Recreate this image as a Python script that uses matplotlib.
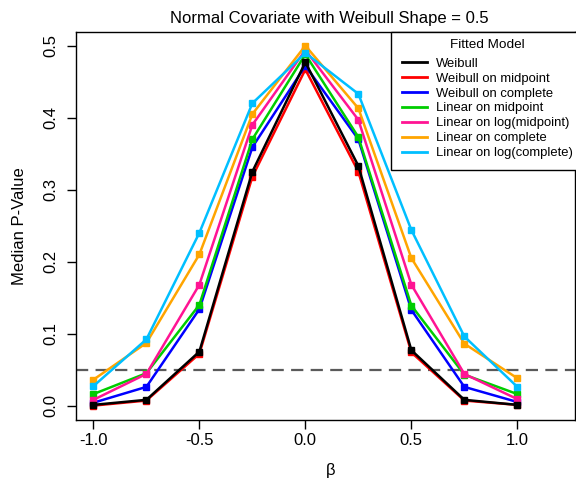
import numpy as np
import matplotlib
matplotlib.use("Agg")
import matplotlib.pyplot as plt

# data -------------------------------------------------------------------------
beta = [-1.0, -0.75, -0.5, -0.25, 0.0, 0.25, 0.5, 0.75, 1.0]

weibull = [0.001, 0.008, 0.075, 0.325, 0.477, 0.333, 0.077, 0.008, 0.001]
weibull_mid = [0.000, 0.007, 0.072, 0.318, 0.467, 0.325, 0.074, 0.007, 0.001]
weibull_comp = [0.004, 0.026, 0.134, 0.359, 0.472, 0.370, 0.133, 0.026, 0.005]
linear_mid = [0.016, 0.045, 0.140, 0.370, 0.488, 0.373, 0.139, 0.043, 0.016]
linear_logmid = [0.008, 0.044, 0.168, 0.390, 0.494, 0.397, 0.168, 0.044, 0.009]
linear_comp = [0.036, 0.087, 0.210, 0.405, 0.500, 0.413, 0.205, 0.086, 0.038]
linear_logcomp = [0.027, 0.092, 0.240, 0.420, 0.490, 0.433, 0.244, 0.096, 0.026]

labels = ["Weibull", "Weibull on midpoint", "Weibull on complete",
          "Linear on midpoint", "Linear on log(midpoint)",
          "Linear on complete", "Linear on log(complete)"]
colors = ["black", "#FF0000", "#0000FF", "#00CD00", "#FF1493", "#FFA500", "#00BFFF"]

alpha_level = 0.05

# plot -------------------------------------------------------------------------
plt.rcParams['font.family'] = ['Liberation Sans', 'DejaVu Sans']

fig = plt.figure(figsize=(5.76, 4.83), dpi=100)
ax = fig.add_axes([76/576, 63/483, 499/576, 388/483])

series = [weibull, weibull_mid, weibull_comp, linear_mid,
          linear_logmid, linear_comp, linear_logcomp]
zorders = [10, 3, 4, 5, 6, 7, 8]
handles = []
for ys, col, lab, z in zip(series, colors, labels, zorders):
    h, = ax.plot(beta, ys, color=col, lw=1.8, marker='s', ms=3.8,
                 label=lab, zorder=z)
    handles.append(h)

ax.axhline(alpha_level, color='#5a5a5a', lw=1.6, dashes=(5.5, 3.3), zorder=2)

ax.set_xlim(-1.082, 1.272)
ax.set_ylim(-0.02, 0.519)
ax.set_xticks([-1.0, -0.5, 0.0, 0.5, 1.0])
ax.set_xticklabels(["-1.0", "-0.5", "0.0", "0.5", "1.0"])
ax.set_yticks([0.0, 0.1, 0.2, 0.3, 0.4, 0.5])
ax.set_yticklabels(["0.0", "0.1", "0.2", "0.3", "0.4", "0.5"],
                   rotation=90, va='center')
ax.tick_params(direction='out', length=6.5, width=1, labelsize=12, colors='black')
ax.tick_params(axis='x', pad=3)
ax.tick_params(axis='y', pad=6)
for sp in ax.spines.values():
    sp.set_linewidth(1)

fig.text(20/576, 1 - 226/483, "Median P-Value", rotation=90, fontsize=12,
         ha='center', va='center')
fig.text(331/576, 1 - 471/483, "\u03b2", fontsize=12, ha='center', va='center')
fig.text(329/576, 1 - 18/483, "Normal Covariate with Weibull Shape = 0.5",
         fontsize=12, ha='center', va='center')

leg = ax.legend(handles=handles, title="Fitted Model", loc='upper left',
                bbox_to_anchor=((391-76)/499, 1.0), fontsize=9.4,
                title_fontsize=9.7, frameon=True, fancybox=False,
                framealpha=1, edgecolor='black', borderpad=0.5,
                handlelength=1.9, handletextpad=0.72, labelspacing=0.21,
                borderaxespad=0)
leg.get_frame().set_linewidth(1)
for lh in leg.legend_handles:
    lh.set_marker('')
    lh.set_linewidth(2)
# push the entries in a bit from the frame, as in the reference
leg._legend_handle_box.pad = 3.2
leg.set_zorder(20)

fig.savefig("out.png", dpi=100)
